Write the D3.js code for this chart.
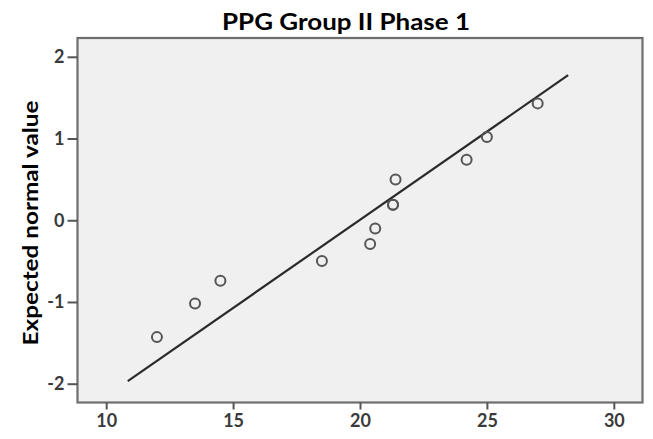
<!DOCTYPE html>
<html>
<head>
<meta charset="utf-8">
<script src="https://cdn.jsdelivr.net/npm/d3@7"></script>
<style>
  body { margin: 0; background: #fff; }
  svg { display: block; }
</style>
</head>
<body>
<svg id="chart" width="653" height="439"></svg>
<script>
// Observed PPG values (sorted) and their expected normal scores
const observed = [12.0, 13.5, 14.5, 18.5, 20.4, 20.6, 21.3, 21.3, 21.4, 24.2, 25.0, 27.0];
const expected = [-1.43, -1.02, -0.74, -0.50, -0.29, -0.10, 0.19, 0.19, 0.50, 0.74, 1.02, 1.43];
// Reference line spans this range of observed values
const lineRange = [10.85, 28.2];
const xTicks = [10, 15, 20, 25, 30];
const yTicks = [-2, -1, 0, 1, 2];

const FONT = "Lato, 'Open Sans', sans-serif";
const svg = d3.select("#chart");
const plotL = 77.5, plotR = 642.5, plotT = 38, plotB = 402.5;

const x = d3.scaleLinear().domain([8.87, 31.13]).range([plotL, plotR]);
const y = d3.scaleLinear().domain([-2.23, 2.23]).range([plotB, plotT]);

// Plot background
svg.append("rect")
  .attr("x", plotL).attr("y", plotT)
  .attr("width", plotR - plotL).attr("height", plotB - plotT)
  .attr("fill", "#f0f0f0");

// Normal reference line from sample mean and SD
const mean = d3.mean(observed);
const sd = d3.deviation(observed);
const line = d3.line().x(d => x(d)).y(d => y((d - mean) / sd));
svg.append("path")
  .datum(lineRange)
  .attr("d", line)
  .attr("fill", "none")
  .attr("stroke", "#2a2a2a")
  .attr("stroke-width", 2.2);

// Points
svg.append("g").selectAll("circle")
  .data(observed.map((v, i) => [v, expected[i]]))
  .join("circle")
  .attr("cx", d => x(d[0]))
  .attr("cy", d => y(d[1]))
  .attr("r", 5)
  .attr("fill", "none")
  .attr("stroke", "#555")
  .attr("stroke-width", 2);

// Frame
svg.append("rect")
  .attr("x", plotL).attr("y", plotT)
  .attr("width", plotR - plotL).attr("height", plotB - plotT)
  .attr("fill", "none")
  .attr("stroke", "#6e6e6e")
  .attr("stroke-width", 2.2);

// Axes
const fmt = v => (v < 0 ? "-" : "") + Math.abs(v);
const styleAxis = g => {
  g.select(".domain").remove();
  g.selectAll(".tick line").attr("stroke", "#555").attr("stroke-width", 2);
  g.selectAll(".tick text")
    .attr("font-family", FONT)
    .attr("font-weight", "bold")
    .attr("font-size", 18)
    .attr("fill", "#3a3a3a");
};

svg.append("g")
  .attr("transform", `translate(0,${plotB})`)
  .call(d3.axisBottom(x).tickValues(xTicks).tickFormat(fmt).tickSize(7).tickPadding(5).tickSizeOuter(0))
  .call(styleAxis);

svg.append("g")
  .attr("transform", `translate(${plotL},0)`)
  .call(d3.axisLeft(y).tickValues(yTicks).tickFormat(fmt).tickSize(10).tickPadding(3).tickSizeOuter(0))
  .call(styleAxis);

// Title
svg.append("text")
  .attr("x", 346).attr("y", 30)
  .attr("text-anchor", "middle")
  .attr("font-family", FONT)
  .attr("font-weight", "bold")
  .attr("font-size", 22)
  .attr("fill", "#000")
  .attr("textLength", 248)
  .attr("lengthAdjust", "spacingAndGlyphs")
  .text("PPG Group II Phase 1");

// Y axis label
svg.append("text")
  .attr("transform", "translate(38,223) rotate(-90)")
  .attr("text-anchor", "middle")
  .attr("font-family", FONT)
  .attr("font-weight", "bold")
  .attr("font-size", 20)
  .attr("fill", "#000")
  .attr("textLength", 245)
  .attr("lengthAdjust", "spacingAndGlyphs")
  .text("Expected normal value");
</script>
</body>
</html>
